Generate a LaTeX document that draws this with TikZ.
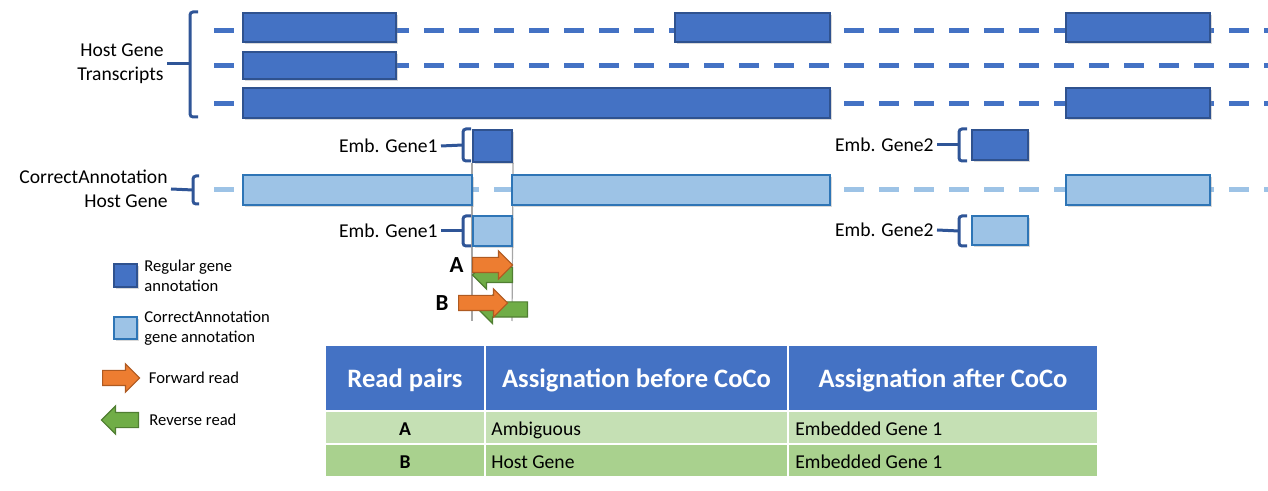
\documentclass[tikz,border=0pt]{standalone}
\usepackage{fontspec}
\setmainfont{Carlito}
\usetikzlibrary{positioning,fit,backgrounds,shapes.arrows,shadows}

\definecolor{dkblue}{HTML}{4472C4}
\definecolor{dkline}{HTML}{2F528F}
\definecolor{ltblue}{HTML}{9DC3E6}
\definecolor{ltline}{HTML}{2E75B6}
\definecolor{brkblue}{HTML}{2F5597}
\definecolor{fwdfill}{HTML}{ED7D31}
\definecolor{fwdline}{HTML}{AE5A21}
\definecolor{revfill}{HTML}{70AD47}
\definecolor{revline}{HTML}{507E32}
\definecolor{rowA}{HTML}{C5E0B4}
\definecolor{rowB}{HTML}{A9D18E}

\begin{document}
\begin{tikzpicture}[x=0.5pt,y=-0.5pt,inner sep=0pt,
    boxshadow/.style={drop shadow={opacity=0.3,shadow xshift=0.8pt,shadow yshift=-0.8pt}},
    exon/.style={rectangle,draw=dkline,fill=dkblue,line width=1pt,boxshadow},
    cexon/.style={rectangle,draw=ltline,fill=ltblue,line width=1pt,boxshadow},
    track/.style={dkblue,line width=2.5pt,dash pattern=on 10pt off 7.5pt},
    ctrack/.style={ltblue,line width=2.5pt,dash pattern=on 10pt off 7.5pt},
    brk/.style={brkblue,line width=1.5pt,rounded corners=1.5pt},
    guide/.style={black!35,line width=0.6pt},
    lbl/.style={font=\fontsize{9.8}{12}\selectfont,align=right,inner sep=1.5pt},
    lgd/.style={font=\fontsize{8.3}{10}\selectfont,align=left},
    fwd/.style={single arrow,fill=fwdfill,draw=fwdline,line width=0.6pt,anchor=tail,
      inner xsep=0pt,inner ysep=3.5pt,single arrow head extend=3.25pt},
    rev/.style={fwd,fill=revfill,draw=revline,shape border rotate=180},
    pairlbl/.style={font=\fontsize{11.5}{13}\selectfont\bfseries},
    hdcell/.style={rectangle,fill=dkblue,draw=white,line width=1pt},
    hdtext/.style={text=white,font=\bfseries\fontsize{13.3}{16}\selectfont,
      text height=8.6pt,text depth=0pt,yshift=-0.5pt},
    acell/.style={rectangle,fill=rowA,draw=white,line width=1pt},
    bcell/.style={acell,fill=rowB},
    cellt/.style={font=\fontsize{9.8}{12}\selectfont,
      text height=6.3pt,text depth=0pt,yshift=-0.75pt}]

\useasboundingbox (0,0) rectangle (1268,491);

% transcript tracks
\coordinate (t1s) at (214,31);  \coordinate (t1e) at (1268,31);
\coordinate (t2s) at (214,66);  \coordinate (t2e) at (1268,66);
\coordinate (t3s) at (214,104); \coordinate (t3e) at (1268,104);
\coordinate (cts) at (214,190); \coordinate (cte) at (1268,190);
\draw[track] (t1s) -- (t1e);
\draw[track] (t2s) -- (t2e);
\draw[track] (t3s) -- (t3e);
\draw[ctrack] (cts) -- (cte);

\node[exon,fit={(243,13) (396,42)}] (t1a) {};
\node[exon,fit={(675,13) (830,42)}] (t1b) {};
\node[exon,fit={(1066,13) (1210,42)}] (t1c) {};
\node[exon,fit={(243,52) (396,79)}] (t2a) {};
\node[exon,fit={(243,88) (830,118)}] (t3a) {};
\node[exon,fit={(1066,88) (1210,118)}] (t3b) {};

\node[cexon,fit={(243,175) (472,205)}] (ca) {};
\node[cexon,fit={(512,175) (830,205)}] (cb) {};
\node[cexon,fit={(1066,175) (1210,205)}] (cc) {};

% embedded genes
\node[exon,fit={(473,130) (512,162)}] (emb1) {};
\node[exon,fit={(972,130) (1028,160)}] (emb2) {};
\node[cexon,fit={(473,216) (512,246)}] (cemb1) {};
\node[cexon,fit={(972,216) (1028,245)}] (cemb2) {};

\coordinate (gl1) at (472,321);
\coordinate (gl2) at (512,321);
\begin{pgfonlayer}{background}
\draw[guide] (emb1.south west) -- (gl1);
\draw[guide] (emb1.south east) -- (gl2);
\end{pgfonlayer}

% labels and brackets
\node[lbl,anchor=east] (hostlbl) at (167,64) {Host Gene\\Transcripts};
\node[lbl,anchor=east] (corrlbl) at (171,189) {CorrectAnnotation\\Host Gene};
\node[lbl,anchor=east] (emb1lbl) at (441,146) {Emb. Gene1};
\node[lbl,anchor=east] (cemb1lbl) at (441,231) {Emb. Gene1};
\node[lbl,anchor=east] (emb2lbl) at (937,145) {Emb. Gene2};
\node[lbl,anchor=east] (cemb2lbl) at (937,230) {Emb. Gene2};

\coordinate (hostb) at (190,64);
\coordinate (corrb) at (193,190);
\coordinate (emb1b) at (463,145);
\coordinate (cemb1b) at (463,231);
\coordinate (emb2b) at (959,145);
\coordinate (cemb2b) at (959,231);

\draw[brk] (198,12) -- (190,12) -- (190,117) -- (198,117);
\draw[brk] (199,176) -- (193,176) -- (193,204) -- (199,204);
\draw[brk] (471,129) -- (463,129) -- (463,161) -- (471,161);
\draw[brk] (471,216) -- (463,216) -- (463,246) -- (471,246);
\draw[brk] (967,129) -- (959,129) -- (959,161) -- (967,161);
\draw[brk] (967,216) -- (959,216) -- (959,246) -- (967,246);
\draw[brk] (hostlbl.east) -- (hostb);
\draw[brk] (corrlbl.east) -- (corrb);
\draw[brk] (emb1lbl.east) -- (emb1b);
\draw[brk] (cemb1lbl.east) -- (cemb1b);
\draw[brk] (emb2lbl.east) -- (emb2b);
\draw[brk] (cemb2lbl.east) -- (cemb2b);

% read pairs
\node[rev,minimum height=20pt] (revA) at (513,275) {};
\node[fwd,minimum height=20pt] (fwdA) at (472,265) {};
\node[rev,minimum height=24.5pt] (revB) at (528,309.5) {};
\node[fwd,minimum height=24.5pt] (fwdB) at (458,303) {};
\node[pairlbl,left=4pt of fwdA] (pairA) {A};
\node[pairlbl,left=4.5pt of fwdB] (pairB) {B};

% legend
\node[exon,fit={(114,264) (137,287)}] (legreg) {};
\node[lgd,right=3pt of legreg] (legregt) {Regular gene\\annotation};
\node[cexon,fit={(114,317) (137,339)}] (legcor) {};
\node[lgd,right=3pt of legcor] (legcort) {CorrectAnnotation\\gene annotation};
\node[fwd,minimum height=18.5pt] (legfwd) at (102,378) {};
\node[lgd,right=4pt of legfwd] (legfwdt) {Forward read};
\node[rev,minimum height=18.5pt] (legrev) at (139,420) {};
\node[lgd,right=5pt of legrev] (legrevt) {Reverse read};

% table
\node[hdcell,fit={(325,345) (485,411)}] (h1) {};
\node[hdcell,fit={(485,345) (788,411)}] (h2) {};
\node[hdcell,fit={(788,345) (1098,411)}] (h3) {};
\node[acell,fit={(325,411) (485,444)}] (a1) {};
\node[acell,fit={(485,411) (788,444)}] (a2) {};
\node[acell,fit={(788,411) (1098,444)}] (a3) {};
\node[bcell,fit={(325,444) (485,477)}] (b1) {};
\node[bcell,fit={(485,444) (788,477)}] (b2) {};
\node[bcell,fit={(788,444) (1098,477)}] (b3) {};
\node[hdtext] (h1t) at (h1) {Read pairs};
\node[hdtext] (h2t) at (h2) {Assignation before CoCo};
\node[hdtext] (h3t) at (h3) {Assignation after CoCo};
\node[cellt,font=\bfseries\fontsize{9.8}{12}\selectfont] (a1t) at (a1) {A};
\node[cellt,font=\bfseries\fontsize{9.8}{12}\selectfont] (b1t) at (b1) {B};
\node[cellt,right=3.5pt of a2.west] (a2t) {Ambiguous};
\node[cellt,right=4pt of a3.west] (a3t) {Embedded Gene 1};
\node[cellt,right=3.5pt of b2.west] (b2t) {Host Gene};
\node[cellt,right=4pt of b3.west] (b3t) {Embedded Gene 1};
\end{tikzpicture}
\end{document}
